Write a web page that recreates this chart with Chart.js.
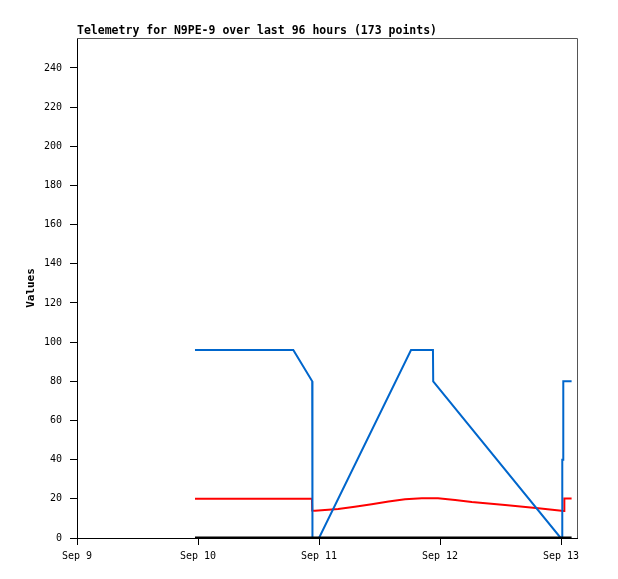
<!DOCTYPE html>
<html><head><meta charset="utf-8">
<script src="https://cdn.jsdelivr.net/npm/chart.js@4/dist/chart.umd.min.js"></script>
<style>html,body{margin:0;padding:0;background:#fff}#wrap{width:618px;height:579px}</style>
</head><body><div id="wrap"><canvas id="c" width="618" height="579"></canvas></div>
<script>
// hours since Sep 9 00:00
const tickHours = [0, 24, 48, 72, 96];
const tickLabels = ["Sep 9", "Sep 10", "Sep 11", "Sep 12", "Sep 13"];
const yTicks = [0,20,40,60,80,100,120,140,160,180,200,220,240];

const blueHours  = [23.4, 42.9, 46.65, 46.7, 48.0, 66.25, 70.6, 70.65, 95.94, 96.24, 96.25, 96.44, 96.45, 98.1];
const blueValues = [96,   96,   80,    0,    0,    96,    96,   80,    0,     0,     40,    40,    80,    80];

const redHours  = [23.4, 46.6, 46.65, 47.2, 51.8, 55.1, 58.45, 61.8, 65.06, 68.4, 71.6, 75.0, 78.3, 84.9, 91.5, 96.1, 96.6, 96.66, 98.1];
const redValues = [20,   20,   14,    13.9, 14.8, 15.9, 17.2,  18.6, 19.8,  20.3, 20.3, 19.4, 18.4, 16.8, 15.2, 13.9, 13.8, 20.2,  20.2];

const blackHours  = [23.4, 98.1];
const blackValues = [0, 0];

const toXY = (xs, ys) => xs.map((x, i) => ({x: x, y: ys[i]}));
const MONO = '"DejaVu Sans Mono", "Liberation Mono", monospace';

const framePlugin = {
  id: 'frame',
  afterDraw(chart) {
    const {ctx, chartArea: a} = chart;
    ctx.save();
    ctx.strokeStyle = '#555';
    ctx.lineWidth = 1;
    ctx.beginPath();
    ctx.moveTo(a.left, a.top + 0.5);
    ctx.lineTo(a.right + 0.5, a.top + 0.5);
    ctx.lineTo(a.right + 0.5, a.bottom);
    ctx.stroke();
    ctx.fillStyle = '#000';
    ctx.font = 'bold 11.5px ' + MONO;
    ctx.textAlign = 'left';
    ctx.textBaseline = 'middle';
    ctx.fillText('Telemetry for N9PE-9 over last 96 hours (173 points)', a.left, 31);
    ctx.translate(31, (a.top + a.bottom) / 2);
    ctx.rotate(-Math.PI / 2);
    ctx.textAlign = 'center';
    ctx.font = 'bold 11px ' + MONO;
    ctx.fillText('Values', 0, 0);
    ctx.restore();
  }
};

new Chart(document.getElementById('c'), {
  type: 'line',
  data: {
    datasets: [
      {data: toXY(blackHours, blackValues), borderColor: '#000000', borderWidth: 3},
      {data: toXY(blueHours, blueValues), borderColor: '#0066CC', borderWidth: 2},
      {data: toXY(redHours, redValues), borderColor: '#FF0000', borderWidth: 2}
    ]
  },
  options: {
    responsive: false,
    animation: false,
    devicePixelRatio: 1,
    elements: {point: {radius: 0}, line: {tension: 0, borderCapStyle: 'butt'}},
    layout: {padding: {left: 0, top: 38, right: 41, bottom: 0}},
    plugins: {legend: {display: false}, tooltip: {enabled: false}, title: {display: false}},
    scales: {
      x: {
        type: 'linear', min: 0, max: 99.17,
        afterFit(s) { s.height = 41; },
        afterBuildTicks(s) { s.ticks = tickHours.map(v => ({value: v})); },
        grid: {drawOnChartArea: false, drawTicks: true, tickLength: 7, color: '#000'},
        border: {display: true, color: '#000', width: 1},
        ticks: {
          color: '#000', font: {family: MONO, size: 10}, padding: 5, maxRotation: 0,
          callback: (v) => { const i = tickHours.indexOf(v); return i >= 0 ? tickLabels[i] : ''; }
        }
      },
      y: {
        type: 'linear', min: 0, max: 255.3,
        afterFit(s) { s.width = 77; },
        afterBuildTicks(s) { s.ticks = yTicks.map(v => ({value: v})); },
        grid: {drawOnChartArea: false, drawTicks: true, tickLength: 7, color: '#000'},
        border: {display: true, color: '#000', width: 1},
        ticks: {color: '#000', font: {family: MONO, size: 10}, padding: 8}
      }
    }
  },
  plugins: [framePlugin]
});
</script>
</body></html>
